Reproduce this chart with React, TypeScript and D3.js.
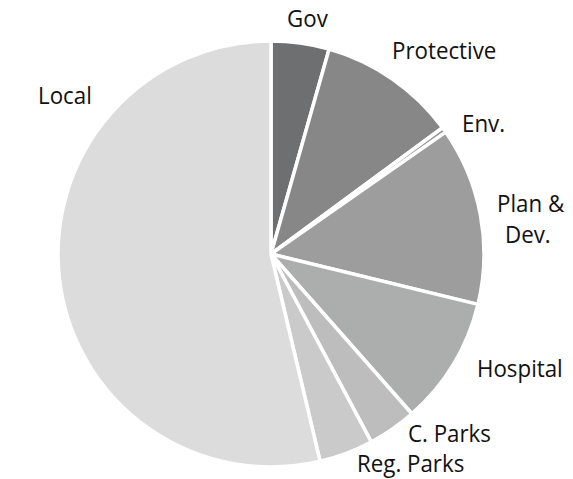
import { useRef, useEffect } from "react";
import * as d3 from "d3";

const categories = ["Gov", "Protective", "Env.", "Plan & Dev.", "Hospital", "C. Parks", "Reg. Parks", "Local"];
const values = [4.4, 10.5, 0.4, 13.5, 9.7, 3.7, 4.1, 53.7];
const colors = ["#6e6f71", "#878787", "#939393", "#9d9d9d", "#acadad", "#bdbdbd", "#cacaca", "#dcdcdc"];
// label lines per slice
const labelLines = [["Gov"], ["Protective"], ["Env."], ["Plan &", "Dev."], ["Hospital"], ["C. Parks"], ["Reg. Parks"], ["Local"]];

// label anchors (left x, first baseline)
const labelPos: [number, number][] = [
  [287, 27], [392, 59], [462, 132], [497, 212], [477, 377], [408, 442], [357, 472], [38, 104],
];
const dxLine: number[][] = [[0], [0], [0], [0, 8], [0], [0], [0], [0]];

export default function App() {
  const ref = useRef<SVGSVGElement>(null);

  useEffect(() => {
    if (!ref.current) return;
    const svg = d3.select(ref.current);
    svg.selectAll("*").remove();
    const cx = 271, cy = 254, r = 213;

    const data = categories.map((c, i) => ({ c, v: values[i], i }));
    const pie = d3.pie<any>().value(d => d.v).sort(null).startAngle(0).endAngle(2 * Math.PI);
    const arc = d3.arc<any>().innerRadius(0).outerRadius(r);

    const g = svg.append("g").attr("transform", `translate(${cx},${cy})`);
    g.selectAll("path").data(pie(data)).enter().append("path")
      .attr("d", arc)
      .attr("fill", d => colors[d.data.i])
      .attr("stroke", "#fff")
      .attr("stroke-width", 3.5)
      .attr("stroke-linejoin", "round");

    labelLines.forEach((lines, i) => {
      const [x, y] = labelPos[i];
      lines.forEach((t, j) => {
        svg.append("text")
          .attr("transform", `translate(${x + dxLine[i][j]},${y + j * 31}) scale(0.93,1)`)
          .attr("font-family", "'Open Sans', sans-serif")
          .attr("font-size", 24)
          .attr("fill", "#111")
          .text(t);
      });
    });
  }, []);

  return (
    <svg ref={ref} width={573} height={479}
      style={{ position: "absolute", left: 0, top: 0, background: "#fff" }} />
  );
}
